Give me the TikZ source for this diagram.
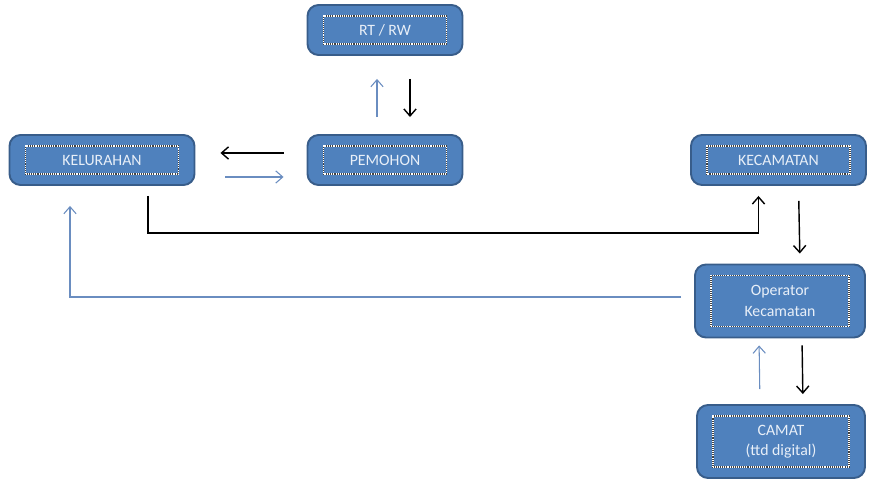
\documentclass[tikz,border=0pt]{standalone}
\usepackage{fontspec}
\setmainfont{Carlito}
\usepackage{xcolor}
\usetikzlibrary{calc, arrows.meta, positioning}
\definecolor{boxfill}{HTML}{4F81BD}
\definecolor{boxedge}{HTML}{385D8A}
\definecolor{boxtext}{HTML}{E8EFF8}
\definecolor{flowblue}{HTML}{6A8DC0}

\begin{document}
\begin{tikzpicture}[auto, >={Straight Barb[length=4pt,width=7pt]}, font=\fontsize{9}{11.5}\selectfont]
		\tikzstyle{unit} = [draw=boxedge, line width=1.1pt, fill=boxfill, rounded corners=0.22cm, text=boxtext, align=center, minimum height=1cm,
			path picture={
				\draw[sharp corners, black!75, line width=0.8pt] ([shift={(0.32,0.22)}]path picture bounding box.south west) rectangle ([shift={(-0.32,-0.22)}]path picture bounding box.north east);
				\draw[sharp corners, white, line width=0.8pt, dash pattern=on 0.6pt off 0.6pt] ([shift={(0.32,0.22)}]path picture bounding box.south west) rectangle ([shift={(-0.32,-0.22)}]path picture bounding box.north east);
			}]
		\tikzstyle{blk} = [line width=0.8pt, black, ->]
		\tikzstyle{blu} = [line width=0.6pt, flowblue, ->]
		
		\useasboundingbox (0,0) rectangle (17.4,9.62);
		
		\node[unit, minimum width=3.1cm]	at (7.7, 9.02)		(rtrw)		{RT / RW};
		
		\node[unit, minimum width=3.7cm]	at (2.04, 6.42)		(kelurahan)	{KELURAHAN};
		\node[unit, minimum width=3.1cm]	at (7.7, 6.42)		(pemohon)	{PEMOHON};
		\node[unit, minimum width=3.5cm]	at (15.57, 6.42)	(kecamatan)	{KECAMATAN};
		
		\node[unit, minimum width=3.4cm, minimum height=1.46cm]	at (15.6, 3.6)	(operator)	{Operator\\Kecamatan};
		\node[unit, minimum width=3.36cm, minimum height=1.46cm]	at (15.62, 0.79)	(camat)	{CAMAT\\(ttd digital)};
		
		\draw [blk, shorten <=0.46cm, shorten >=0.5cm] ([yshift=0.14cm]pemohon.west) -- ([yshift=0.14cm]kelurahan.east);
		\draw [blu, shorten <=0.6cm, shorten >=0.46cm] ([yshift=-0.34cm]kelurahan.east) -- ([yshift=-0.34cm]pemohon.west);
		
		\draw [blu, shorten <=0.34cm, shorten >=0.46cm] ([xshift=-0.16cm]pemohon.north) -- ([xshift=-0.16cm]rtrw.south);
		\draw [blk, shorten <=0.46cm, shorten >=0.34cm] ([xshift=0.5cm]rtrw.south) -- ([xshift=0.5cm]pemohon.north);
		
		\draw [blk] ([xshift=0.92cm, yshift=-0.2cm]kelurahan.south) -- ++(0,-0.74) -| ([xshift=-0.4cm, yshift=-0.2cm]kecamatan.south);
		\draw [blk, shorten <=0.3cm, shorten >=0.2cm] ([xshift=0.4cm]kecamatan.south) -- ([xshift=0.4cm]operator.north);
		\draw [blu] ([xshift=-0.26cm, yshift=0.08cm]operator.west) -| ([xshift=-0.64cm, yshift=-0.4cm]kelurahan.south);
		
		\draw [blu, shorten <=0.3cm, shorten >=0.14cm] ([xshift=-0.42cm]camat.north) -- ([xshift=-0.42cm]operator.south);
		\draw [blk, shorten <=0.14cm, shorten >=0.2cm] ([xshift=0.44cm]operator.south) -- ([xshift=0.44cm]camat.north);
	\end{tikzpicture}
\end{document}
